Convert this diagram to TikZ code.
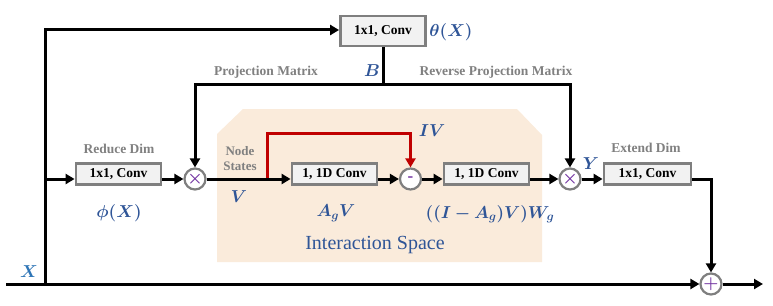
\documentclass[tikz,border=0pt]{standalone}
\usepackage{fontspec}
\usepackage{bm}
\setmainfont{Liberation Serif}
\usetikzlibrary{arrows.meta}

\definecolor{boxgray}{HTML}{7F7F7F}
\definecolor{boxfill}{HTML}{F2F2F2}
\definecolor{taggray}{HTML}{808080}
\definecolor{symblue}{HTML}{2F5597}
\definecolor{xblue}{HTML}{2E75B6}
\definecolor{oppurple}{HTML}{7030A0}
\definecolor{gatered}{HTML}{C00000}
\definecolor{peach}{HTML}{FAEBDB}

\begin{document}
\begin{tikzpicture}
  [x=1pt,y=-1pt,
   conv/.style={draw=boxgray,line width=2.8pt,fill=boxfill,minimum width=85pt,
     minimum height=21pt,inner sep=0pt,font=\fontsize{13.5}{15}\selectfont\bfseries},
   op/.style={circle,draw=boxgray,line width=2.2pt,fill=white,minimum size=21pt,
     inner sep=0pt,text=oppurple,font=\fontsize{17}{18}\selectfont\bfseries},
   tag/.style={text=taggray,font=\fontsize{13.5}{14}\selectfont\bfseries,align=center},
   sym/.style={text=symblue,font=\fontsize{18}{20}\selectfont},
   wire/.style={line width=3pt},
   flow/.style={wire,-{Triangle[length=9pt,width=10pt]}}]
  \useasboundingbox (0,0) rectangle (773,305);

  % interaction space
  \fill[peach] (217,134) -- (243,109) -- (517,109) -- (542,135)
    -- (542,262) -- (217,262) -- cycle;
  \node[font=\fontsize{20}{22}\selectfont,text=symblue] (space) at (375,245) {Interaction Space};

  \node[conv,minimum height=30pt] (theta) at (383,31)  {1x1, Conv};
  \node[conv] (phi)    at (118.5,174) {1x1, Conv};
  \node[conv] (conv1)  at (334.5,174) {1, 1D Conv};
  \node[conv] (conv2)  at (486.5,174) {1, 1D Conv};
  \node[conv,minimum width=87pt] (extend) at (647.5,174) {1x1, Conv};

  \node[op] (mul1)  at (195,179) {$\bm{\times}$};
  \node[op] (minus) at (410.5,179) {-};
  \node[op] (mul2)  at (570,179) {$\bm{\times}$};
  \node[op] (plus)  at (711,284) {$\bm{+}$};

  \coordinate (xin)   at (6,284);
  \coordinate (split) at (45,284);
  \coordinate (xout)  at (763,284);
  \coordinate (bus)   at (0,84);
  \coordinate (tap)   at (267,179);
  \coordinate (iv)    at (0,133);

  \node[tag] (reduce) at (119,149) {Reduce Dim};
  \node[tag] (expand) at (646,148) {Extend Dim};
  \node[tag] (proj)   at (266,72)  {Projection Matrix};
  \node[tag] (rproj)  at (496,72)  {Reverse Projection Matrix};
  \node[tag,font=\fontsize{13}{15}\selectfont\bfseries] (states) at (240,159) {Node\\States};

  \node[sym] (thx)  at (451,32)  {$\bm{\theta(X)}$};
  \node[sym] (phx)  at (119,213) {$\bm{\phi(X)}$};
  \node[sym] (bmat) at (372,71)  {$\bm{B}$};
  \node[sym] (vlab) at (239,197) {$\bm{V}$};
  \node[sym] (agv)  at (336,213) {$\bm{A_gV}$};
  \node[sym] (ivl)  at (432,131) {$\bm{IV}$};
  \node[sym] (wg)   at (490,214) {$\bm{((I-A_g)V)W_g}$};
  \node[sym] (ylab) at (591,164) {$\bm{Y}$};
  \node[sym,text=xblue] (xlab) at (29,272) {$\bm{X}$};

  \draw[flow] (split) |- (theta.west |- 0,30);
  \draw[flow] (theta.south) |- (mul1 |- bus) -- (mul1);
  \draw[flow] (theta.south |- bus) -| (mul2);
  \draw[flow,gatered] (tap) |- (minus |- iv) -- (minus);
  \draw[flow] (extend.east |- mul2) -| (plus);

  \foreach \from/\to in {split |- mul1/phi.west |- mul1, phi.east |- mul1/mul1,
      mul1/conv1.west |- mul1, conv1.east |- minus/minus, minus/conv2.west |- minus,
      conv2.east |- mul2/mul2, mul2/extend.west |- mul2, xin/plus, plus/xout}
    \draw[flow] (\from) -- (\to);

\end{tikzpicture}
\end{document}
